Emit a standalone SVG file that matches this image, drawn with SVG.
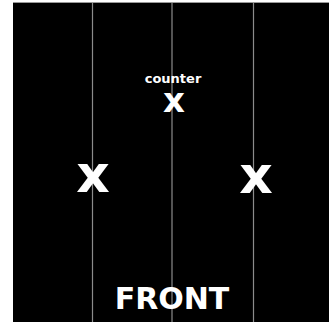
<svg xmlns="http://www.w3.org/2000/svg" width="329" height="322" viewBox="0 0 329 322">
<style>
.lbl{fill:#fff;font-family:"DejaVu Sans","Liberation Sans",sans-serif;font-weight:bold;text-anchor:middle}
.ln{stroke:#8c8c8c;stroke-width:1.2}
</style>
<rect x="0" y="0" width="329" height="322" fill="#fff"/>
<rect x="13" y="2" width="316" height="320" fill="#000"/>
<line x1="13" y1="2.5" x2="329" y2="2.5" stroke="#9a9a9a" stroke-width="1"/>
<g id="connectors">
<line class="ln" x1="92.5" y1="3" x2="92.5" y2="322"/>
<line class="ln" x1="172" y1="3" x2="172" y2="322"/>
<line class="ln" x1="253.5" y1="3" x2="253.5" y2="322"/>
</g>
<g id="counter">
<text class="lbl" x="173" y="83" font-size="13">counter</text>
<text class="lbl" x="174" y="112" font-size="34">x</text>
</g>
<g id="left-x">
<text class="lbl" x="93" y="192" font-size="52">x</text>
</g>
<g id="right-x">
<text class="lbl" x="256" y="193" font-size="52">x</text>
</g>
<g id="front">
<text class="lbl" x="172" y="309" font-size="30">FRONT</text>
</g>
</svg>
